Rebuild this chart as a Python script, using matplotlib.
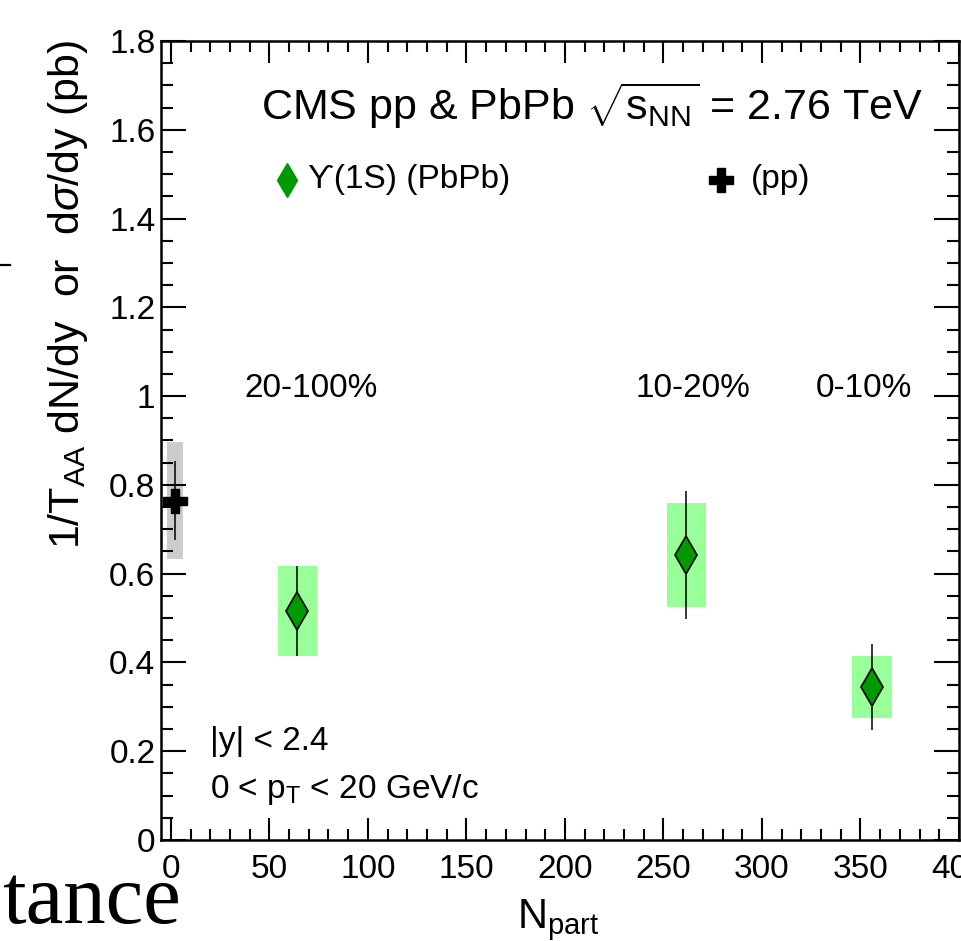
import numpy as np
import matplotlib
matplotlib.use("Agg")
from matplotlib import pyplot as plt
from matplotlib.ticker import MultipleLocator
from matplotlib.lines import Line2D

# PbPb Upsilon(1S) points
npart = [64.2, 261.7, 355.8]
yield_pbpb = [0.516, 0.642, 0.345]
stat_pbpb = [0.101, 0.145, 0.097]
syst_pbpb = [0.101, 0.118, 0.070]
cent_labels = ["20-100%", "10-20%", "0-10%"]
cent_label_x = [71, 265, 352]

# pp reference point
npart_pp = [2.0]
xsec_pp = [0.764]
stat_pp = [0.089]
syst_pp = [0.132]

plt.rcParams["font.family"] = ["Liberation Sans", "DejaVu Sans"]
plt.rcParams["mathtext.fontset"] = "custom"
plt.rcParams["mathtext.rm"] = "Liberation Sans"
plt.rcParams["mathtext.it"] = "Liberation Sans:italic"
plt.rcParams["mathtext.sf"] = "Liberation Sans"

fig = plt.figure(figsize=(9.62, 9.41), dpi=100)
ax = fig.add_axes([161 / 962, 101 / 941, 798 / 962, 799 / 941])

# systematic boxes
ax.bar(npart_pp, 2 * np.array(syst_pp), bottom=np.array(xsec_pp) - np.array(syst_pp),
       width=8, color="#cccccc", zorder=1)
ax.bar(npart, 2 * np.array(syst_pbpb), bottom=np.array(yield_pbpb) - np.array(syst_pbpb),
       width=20, color="#99ff99", zorder=1)

# stat error bars + markers
ax.errorbar(npart_pp, xsec_pp, yerr=stat_pp, fmt="none", ecolor="black", elinewidth=1.1, zorder=2)
ax.plot(npart_pp, xsec_pp, "P", color="black", markersize=17, zorder=3)
ax.errorbar(npart, yield_pbpb, yerr=stat_pbpb, fmt="none", ecolor="black", elinewidth=1.1, zorder=2)
ax.plot(npart, yield_pbpb, "d", color="#009900", markeredgecolor="black",
        markeredgewidth=1.2, markersize=19, zorder=3)

ax.set_xlim(-5, 400)
ax.set_ylim(0, 1.8)
ax.xaxis.set_minor_locator(MultipleLocator(10))
ax.yaxis.set_minor_locator(MultipleLocator(0.05))
ax.set_yticks(np.arange(0, 1.81, 0.2))
ax.set_yticklabels(["0", "0.2", "0.4", "0.6", "0.8", "1", "1.2", "1.4", "1.6", "1.8"])
ax.set_xticks(np.arange(0, 401, 50))
ax.set_xticklabels(["0", "50", "100", "150", "200", "250", "300", "350", "400"])
ax.tick_params(which="both", direction="in", top=True, right=True, width=1.5, labelsize=24)
ax.tick_params(axis="y", which="major", length=18, pad=4)
ax.tick_params(axis="y", which="minor", length=8.5)
ax.tick_params(axis="x", which="major", length=16, pad=10)
ax.tick_params(axis="x", which="minor", length=8)
for s in ax.spines.values():
    s.set_linewidth(1.8)

# header and legend
ax.text(382, 1.622, r"CMS pp & PbPb $\sqrt{\mathrm{s}_{\mathrm{NN}}}$ = 2.76 TeV",
        fontsize=31, ha="right", va="baseline")
ax.plot([59.1], [1.487], "d", color="#009900", markersize=17, clip_on=False)
ax.text(69.7, 1.487, "ϒ(1S) (PbPb)", fontsize=24, va="center", ha="left")
ax.plot([279.0], [1.487], "P", color="black", markersize=17)
ax.text(294.2, 1.487, "(pp)", fontsize=24, va="center", ha="left")

for lx, lab in zip(cent_label_x, cent_labels):
    ax.text(lx, 1.018, lab, fontsize=24, ha="center", va="center")

ax.text(20, 0.221, "|y| < 2.4", fontsize=24, ha="left", va="center")
ax.text(20, 0.113, r"0 < p$_\mathrm{T}$ < 20 GeV/c", fontsize=24, ha="left", va="center")

# axis titles
fig.text(68 / 962, 1 - 40 / 941, r"1/T$_{\mathrm{AA}}$ dN/dy  or  d$\sigma$/dy (pb)",
         rotation=90, fontsize=31, ha="center", va="top")
fig.text(558 / 962, 1 - 928 / 941, r"N$_{\mathrm{part}}$", fontsize=30, ha="center", va="baseline")

# bits of the surrounding slide
fig.text(2 / 962, 1 - 923 / 941, "tance", family="Liberation Serif", fontsize=61,
         ha="left", va="baseline")
fig.add_artist(Line2D([0, 10 / 962], [1 - 265 / 941] * 2, color="black", linewidth=1.6))

fig.savefig("out.png", dpi=100)
